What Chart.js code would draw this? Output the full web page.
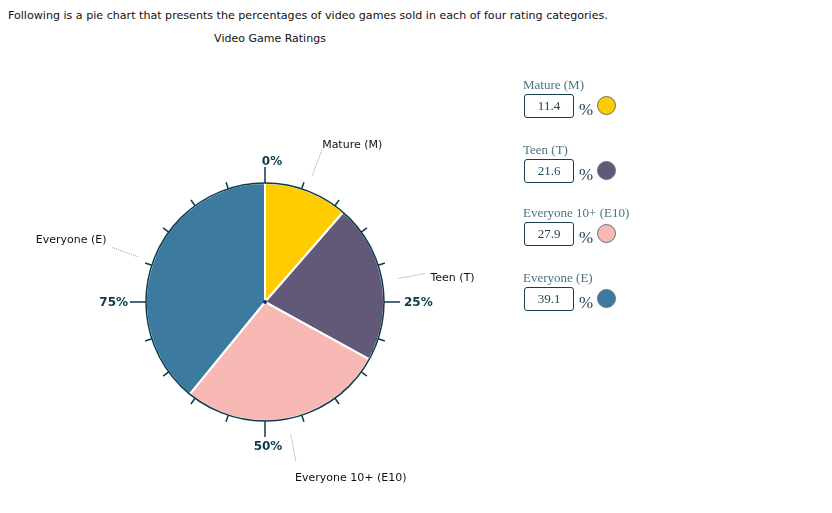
<!DOCTYPE html>
<html>
<head>
<meta charset="utf-8">
<script src="https://cdn.jsdelivr.net/npm/chart.js@4"></script>
<style>
  body { margin: 0; width: 832px; height: 513px; background: #fff; position: relative; overflow: hidden; font-family: "DejaVu Sans", sans-serif; }
  #intro { position: absolute; left: 8px; top: 9px; font-size: 11.1px; color: #111; white-space: nowrap; }
  #title { position: absolute; left: 0; width: 540px; top: 32px; text-align: center; font-size: 11px; color: #111; }
  #wrap { position: absolute; left: 5px; top: 92px; width: 520px; height: 420px; }
  .row { position: absolute; left: 523px; font-family: "Liberation Serif", serif; }
  .row .lab { font-size: 13px; color: #4a7383; height: 16px; line-height: 16px; white-space: nowrap; }
  .row .box { position: absolute; left: 1px; top: 17px; width: 48px; height: 22px; border: 1.5px solid #163f4f; border-radius: 3px; text-align: center; line-height: 22px; font-size: 13px; color: #2a4756; }
  .row .pct { position: absolute; left: 56px; top: 23px; font-size: 17px; color: #1f4556; }
  .row .dot { position: absolute; left: 74px; top: 19px; width: 17px; height: 17px; border-radius: 50%; border: 1.5px solid #5d7480; }
</style>
</head>
<body>
<div id="intro">Following is a pie chart that presents the percentages of video games sold in each of four rating categories.</div>
<div id="title">Video Game Ratings</div>
<div id="wrap"><canvas id="pie"></canvas></div>
<div id="form"></div>
<script>
const categories = ['Mature (M)', 'Teen (T)', 'Everyone 10+ (E10)', 'Everyone (E)'];
const values = [11.4, 21.6, 27.9, 39.1];
const colors = ['#ffcc00', '#625877', '#f8b8b3', '#3d7aa0'];
const tickLabels = ['0%', '25%', '50%', '75%'];
const rowTops = [77, 142, 205, 270];

// input boxes on the right
const form = document.getElementById('form');
categories.forEach((c, i) => {
    const row = document.createElement('div');
    row.className = 'row';
    row.style.top = rowTops[i] + 'px';
    row.innerHTML = `<div class="lab">${c}</div><div class="box">${values[i].toFixed(1)}</div>` +
        `<div class="pct">%</div><div class="dot" style="background:${colors[i]}"></div>`;
    form.appendChild(row);
});

const dial = {
    id: 'dial',
    afterDatasetsDraw(chart) {
        const ctx = chart.ctx;
        const arcs = chart.getDatasetMeta(0).data;
        const cx = arcs[0].x, cy = arcs[0].y, r = arcs[0].outerRadius;
        ctx.save();
        // outline
        ctx.strokeStyle = '#0b3a4c';
        ctx.lineWidth = 1.5;
        ctx.beginPath();
        ctx.arc(cx, cy, r, 0, Math.PI * 2);
        ctx.stroke();
        // ticks every 5%
        for (let k = 0; k < 20; k++) {
            const a = k / 20 * Math.PI * 2;
            const len = k % 5 === 0 ? 16 : 7;
            ctx.beginPath();
            ctx.moveTo(cx + r * Math.sin(a), cy - r * Math.cos(a));
            ctx.lineTo(cx + (r + len) * Math.sin(a), cy - (r + len) * Math.cos(a));
            ctx.stroke();
        }
        // centre dot
        ctx.fillStyle = '#0b3a4c';
        ctx.beginPath();
        ctx.arc(cx, cy, 2, 0, Math.PI * 2);
        ctx.fill();
        // tick labels
        ctx.font = 'bold 12px "DejaVu Sans"';
        ctx.textBaseline = 'middle';
        ctx.fillStyle = '#0b3a4c';
        ctx.textAlign = 'center';
        ctx.fillText(tickLabels[0], cx + 7, cy - r - 21);
        ctx.fillText(tickLabels[2], cx + 3, cy + r + 26);
        ctx.textAlign = 'left';
        ctx.fillText(tickLabels[1], cx + r + 20, cy + 1);
        ctx.textAlign = 'right';
        ctx.fillText(tickLabels[3], cx - r - 18, cy + 1);
        // slice labels with dotted leaders
        ctx.font = '11px "DejaVu Sans"';
        ctx.fillStyle = '#111';
        arcs.forEach((arc, i) => {
            const a = (arc.startAngle + arc.endAngle) / 2 + Math.PI / 2;
            const s = Math.sin(a), co = Math.cos(a);
            ctx.strokeStyle = '#999';
            ctx.lineWidth = 1;
            ctx.setLineDash([1, 1]);
            ctx.beginPath();
            ctx.moveTo(cx + (r + 16) * s, cy - (r + 16) * co);
            const ex = cx + (r + 44) * s, ey = cy - (r + 44) * co;
            ctx.lineTo(ex, ey);
            ctx.stroke();
            ctx.setLineDash([]);
            ctx.textAlign = s >= 0 ? 'left' : 'right';
            ctx.textBaseline = 'middle';
            if (co < -0.9) {
                ctx.fillText(categories[i], ex - 1, ey + 16);
            } else if (Math.abs(s) > 0.9) {
                ctx.fillText(categories[i], ex + (s > 0 ? 5 : -5), ey + (s > 0 ? 5 : -7));
            } else {
                ctx.fillText(categories[i], ex, ey - 4);
            }
        });
        ctx.restore();
    }
};

new Chart(document.getElementById('pie'), {
    type: 'pie',
    data: {
        labels: categories,
        datasets: [{ data: values, backgroundColor: colors, borderColor: '#fff', borderWidth: 2, radius: 119 }]
    },
    options: {
        responsive: true, maintainAspectRatio: false, animation: false,
        events: [],
        plugins: { legend: { display: false }, tooltip: { enabled: false } }
    },
    plugins: [dial]
});
</script>
</body>
</html>
